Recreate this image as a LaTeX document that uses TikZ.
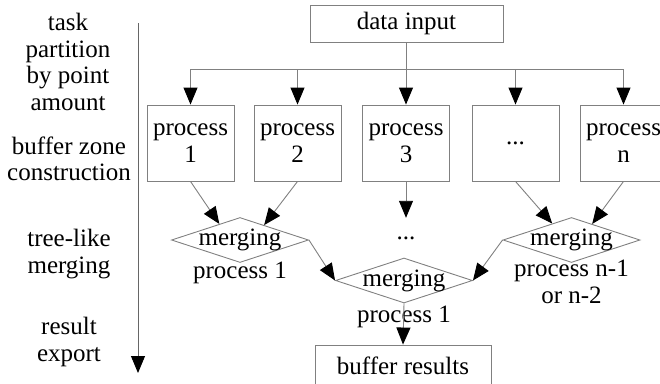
\documentclass[tikz,border=0pt]{standalone}
\usepackage{fontspec}
\setmainfont{Liberation Serif}
\usetikzlibrary{arrows.meta,shapes.geometric,calc}
\begin{document}
\begin{tikzpicture}[x=1pt,y=-1pt,
  every node/.style={font=\fontsize{25}{26.5}\selectfont, inner sep=0pt},
  ln/.style={draw=black!50, line width=0.9pt},
  arr/.style={ln, -{Triangle[length=17pt,width=14pt,black]}},
  box/.style={draw=black!50, line width=0.9pt, rectangle, align=center},
  pbox/.style={box, minimum width=87pt, minimum height=76pt},
  merge/.style={draw=black!50, line width=0.9pt, diamond, aspect=3, minimum width=137pt, minimum height=45pt},
  lbl/.style={align=center}]
\useasboundingbox (0,0) rectangle (660,383);
\clip (0,0) rectangle (660,383);
% left column
\node[lbl] (t1) at (68,62) {task\\partition\\by point\\amount};
\node[lbl] (t2) at (69,159) {buffer zone\\construction};
\node[lbl] (t3) at (69,254) {tree-like\\merging};
\node[lbl] (t4) at (69,342) {result\\export};
\coordinate (ax0) at (138,23);
\coordinate (ax1) at (138,373);
\draw[line width=0.9pt, black!60, -{Triangle[length=17pt,width=14pt,black]}] (ax0) -- (ax1);
% top
\node[box, minimum width=193pt, minimum height=37pt] (din) at (406.5,23.5) {data input};
\node[pbox] (p1) at (190.5,143) {process\\1};
\node[pbox] (p2) at (297.5,143) {process\\2};
\node[pbox] (p3) at (406,143) {process\\3};
\node[pbox] (p4) at (515.5,143) {...};
\node[pbox] (pn) at (623.5,143) {process\\n};
\coordinate (split) at (406.5,69);
\draw[ln] (din.south) -- (split);
\draw[ln] (p1.north |- split) -- (pn.north |- split);
\foreach \p in {p1,p2,p3,p4,pn} {
  \draw[arr] (\p.north |- split) -- (\p.north);
}
% merging
\node[merge] (m1) at (240,240) {};
\node at (m1) {merging};
\node (l1) at (240,273) {process 1};
\node (dots) at (406,238) [minimum height=40pt] {...};
\node[merge] (m2) at (571.5,240) {};
\node at (m2) {merging};
\node[lbl] (l2) at (571.5,282) {process n-1\\or n-2};
\node[merge] (m3) at (404,280.5) {};
\node at (m3) {merging};
\node (l3) at (404,317) {process 1};
\node[box, minimum width=176pt, minimum height=42pt] (res) at (403,366) {buffer results};
% connectors
\draw[arr] (p1.south) -- ($(m1.north)!0.3!(m1.west)$);
\draw[arr] (p2.south) -- ($(m1.north)!0.35!(m1.east)$);
\draw[arr] (p3.south) -- (dots.north);
\draw[arr] (p4.south) -- ($(m2.north)!0.28!(m2.west)$);
\draw[arr] (pn.south) -- ($(m2.north)!0.3!(m2.east)$);
\draw[arr] (m1.east) -- (m3.west);
\draw[arr] (m2.west) -- (m3.east);
\draw[arr] (m3.south) -- (res.north);
\end{tikzpicture}
\end{document}
